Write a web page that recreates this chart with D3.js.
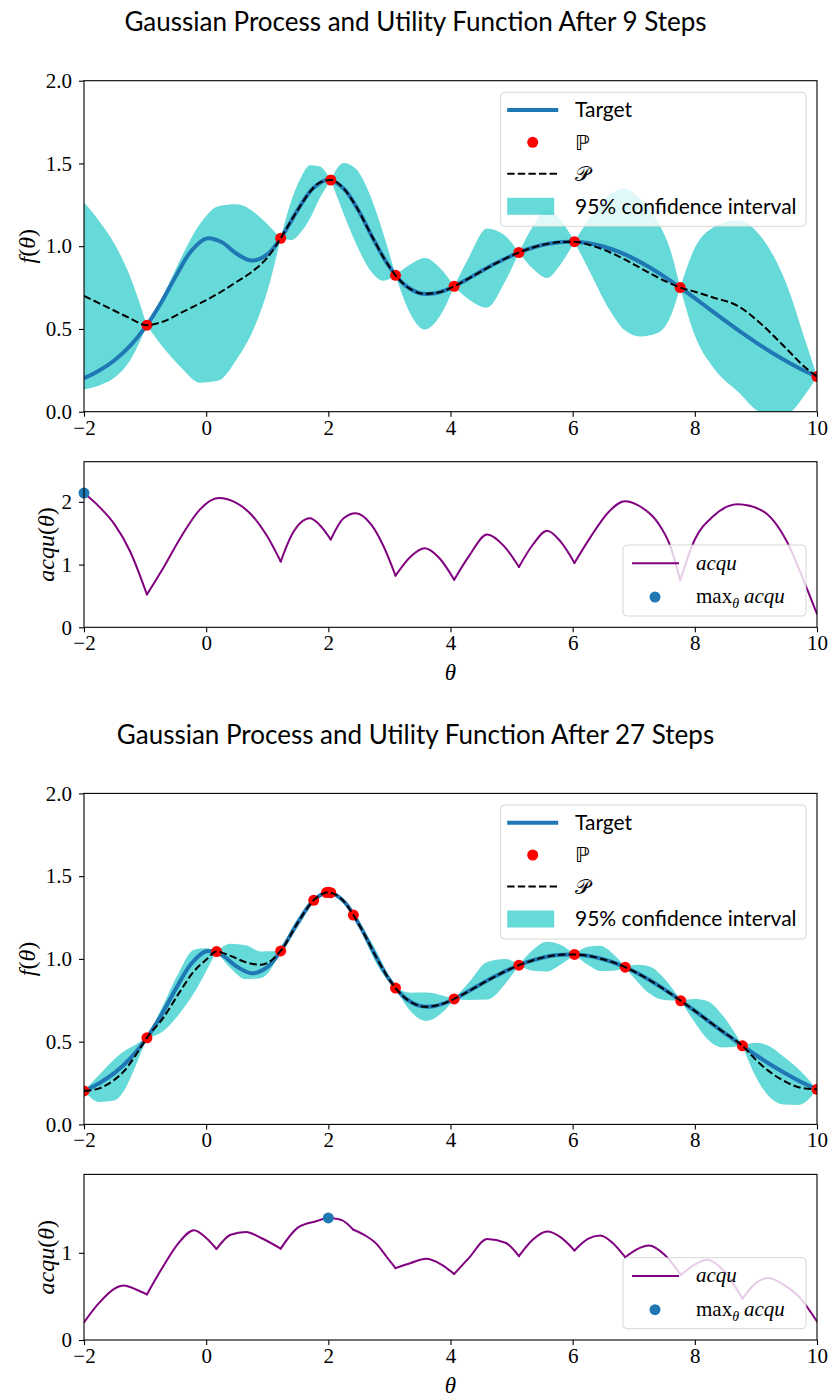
<!DOCTYPE html>
<html>
<head>
<meta charset="utf-8">
<title>Gaussian Process and Utility Function</title>
<script src="https://d3js.org/d3.v7.min.js"></script>
<style>
  body { margin: 0; background: #fff; }
  .tick text { font-family: "Liberation Serif", serif; font-size: 21px; fill: #000; }
  .tick line { stroke: #000; stroke-width: 1.1; }
  .domain { display: none; }
</style>
</head>
<body>
<div id="chart"></div>
<script>
// ---- data ----
var xTicks = [-2, 0, 2, 4, 6, 8, 10];
var gpTicks = [0, 0.5, 1, 1.5, 2];
var acqTicks1 = [0, 1, 2];
var acqTicks2 = [0, 1];
var titles = ["Gaussian Process and Utility Function After 9 Steps",
              "Gaussian Process and Utility Function After 27 Steps"];

// target function, sampled every 0.25
var targetX = [-2, -1.75, -1.5, -1.25, -1, -0.75, -0.5, -0.25, 0, 0.25, 0.5, 0.75, 1, 1.25, 1.5, 1.75,
  2, 2.25, 2.5, 2.75, 3, 3.25, 3.5, 3.75, 4, 4.25, 4.5, 4.75, 5, 5.25, 5.5, 5.75,
  6, 6.25, 6.5, 6.75, 7, 7.25, 7.5, 7.75, 8, 8.25, 8.5, 8.75, 9, 9.25, 9.5, 9.75, 10];
var targetY = [0.202, 0.249, 0.311, 0.396, 0.508, 0.651, 0.817, 0.968, 1.046, 1.025, 0.954, 0.913, 0.950, 1.065, 1.219, 1.350,
  1.402, 1.349, 1.211, 1.034, 0.875, 0.766, 0.716, 0.716, 0.747, 0.795, 0.848, 0.898, 0.943, 0.980, 1.007, 1.023,
  1.027, 1.019, 0.998, 0.967, 0.925, 0.874, 0.816, 0.753, 0.686, 0.617, 0.549, 0.482, 0.419, 0.359, 0.305, 0.255, 0.212];

// after 9 steps
var obs1X = [-0.97, 1.22, 2.04, 3.10, 4.06, 5.12, 6.03, 7.76, 10];
var obs1Y = [0.523, 1.048, 1.40, 0.824, 0.758, 0.962, 1.027, 0.75, 0.212];
var grid1X = [-2, -1.75, -1.5, -1.25, -0.97, -0.7, -0.4, -0.1, 0.2, 0.5, 0.8, 1.0, 1.22, 1.4, 1.55, 1.7, 1.85, 2.04,
  2.25, 2.45, 2.7, 2.9, 3.10, 3.35, 3.58, 3.82, 4.06, 4.3, 4.6, 4.88, 5.12, 5.35, 5.58, 5.8, 6.03,
  6.3, 6.6, 6.85, 7.1, 7.4, 7.6, 7.76, 8.0, 8.3, 8.7, 9.1, 9.5, 9.8, 10];
var mean1 = [0.70, 0.655, 0.61, 0.565, 0.523, 0.545, 0.60, 0.655, 0.715, 0.785, 0.86, 0.93, 1.048, 1.16, 1.249, 1.328, 1.383, 1.40,
  1.349, 1.243, 1.07, 0.934, 0.824, 0.739, 0.712, 0.722, 0.758, 0.805, 0.868, 0.922, 0.962, 0.992, 1.014, 1.025, 1.027,
  1.005, 0.965, 0.92, 0.87, 0.81, 0.775, 0.75, 0.725, 0.69, 0.64, 0.525, 0.38, 0.27, 0.212];
var upper1 = [1.265, 1.151, 1.014, 0.822, 0.523, 0.704, 0.937, 1.135, 1.242, 1.253, 1.201, 1.134, 1.048, 1.282, 1.414, 1.489, 1.483, 1.40,
  1.502, 1.468, 1.293, 1.077, 0.824, 0.892, 0.928, 0.871, 0.758, 0.932, 1.107, 1.067, 0.962, 1.121, 1.220, 1.160, 1.027,
  1.179, 1.312, 1.347, 1.286, 1.143, 0.977, 0.75, 0.99, 1.113, 1.157, 1.05, 0.772, 0.439, 0.212];
var lower1 = [0.135, 0.159, 0.206, 0.308, 0.523, 0.386, 0.263, 0.175, 0.188, 0.317, 0.519, 0.726, 1.048, 1.038, 1.084, 1.167, 1.283, 1.40,
  1.196, 1.018, 0.847, 0.791, 0.824, 0.586, 0.496, 0.573, 0.758, 0.678, 0.629, 0.777, 0.962, 0.863, 0.808, 0.890, 1.027,
  0.831, 0.618, 0.493, 0.454, 0.477, 0.573, 0.75, 0.46, 0.267, 0.123, -0.005, -0.012, 0.101, 0.212];
var acq1 = [2.14, 1.92, 1.64, 1.22, 0.523, 0.95, 1.46, 1.88, 2.06, 1.98, 1.73, 1.45, 1.048, 1.47, 1.67, 1.74, 1.64, 1.40,
  1.74, 1.82, 1.64, 1.30, 0.824, 1.13, 1.26, 1.10, 0.758, 1.13, 1.48, 1.29, 0.962, 1.32, 1.54, 1.37, 1.027,
  1.45, 1.85, 2.01, 1.93, 1.66, 1.29, 0.75, 1.40, 1.77, 1.96, 1.86, 1.38, 0.70, 0.212];
var best1 = [-2, 2.14];

// after 27 steps
var obs2X = [-2, -0.97, 0.17, 1.22, 1.76, 1.97, 2.0, 2.04, 2.41, 3.10, 4.06, 5.12, 6.03, 6.86, 7.77, 8.78, 10];
var obs2Y = [0.202, 0.523, 1.044, 1.048, 1.354, 1.401, 1.402, 1.40, 1.265, 0.824, 0.758, 0.962, 1.027, 0.95, 0.747, 0.475, 0.212];
var grid2X = [-2, -1.75, -1.5, -1.35, -1.15, -0.97, -0.7, -0.45, -0.2, 0.0, 0.17, 0.4, 0.65, 0.9, 1.22, 1.5, 1.76, 1.97, 2.0, 2.04,
  2.22, 2.41, 2.6, 2.8, 2.95, 3.10, 3.35, 3.6, 3.85, 4.06, 4.3, 4.6, 4.9, 5.12, 5.35, 5.58, 5.8, 6.03,
  6.25, 6.45, 6.65, 6.86, 7.05, 7.25, 7.5, 7.77, 8.0, 8.2, 8.45, 8.78, 9.0, 9.2, 9.45, 9.7, 10];
var mean2 = [0.202, 0.218, 0.27, 0.32, 0.42, 0.523, 0.645, 0.79, 0.925, 0.995, 1.044, 1.018, 0.98, 0.965, 1.048, 1.219, 1.354, 1.401, 1.402, 1.40,
  1.361, 1.265, 1.141, 1.0, 0.903, 0.824, 0.739, 0.711, 0.726, 0.758, 0.805, 0.868, 0.926, 0.962, 0.992, 1.014, 1.025, 1.027,
  1.019, 1.003, 0.981, 0.95, 0.915, 0.874, 0.816, 0.747, 0.686, 0.631, 0.563, 0.475, 0.39, 0.325, 0.265, 0.225, 0.212];
var upper2 = [0.202, 0.300, 0.395, 0.44, 0.483, 0.523, 0.725, 0.917, 1.056, 1.064, 1.044, 1.092, 1.082, 1.045, 1.048, 1.246, 1.354, 1.401, 1.402, 1.40,
  1.367, 1.265, 1.165, 1.037, 0.925, 0.824, 0.796, 0.797, 0.781, 0.758, 0.858, 0.982, 1.0, 0.962, 1.055, 1.104, 1.086, 1.027,
  1.074, 1.079, 1.034, 0.95, 0.964, 0.956, 0.881, 0.747, 0.757, 0.745, 0.661, 0.475, 0.494, 0.476, 0.41, 0.333, 0.212];
var lower2 = [0.202, 0.136, 0.145, 0.20, 0.357, 0.523, 0.565, 0.663, 0.794, 0.926, 1.044, 0.944, 0.878, 0.885, 1.048, 1.192, 1.354, 1.401, 1.402, 1.40,
  1.355, 1.265, 1.117, 0.963, 0.881, 0.824, 0.682, 0.625, 0.671, 0.758, 0.752, 0.754, 0.852, 0.962, 0.929, 0.924, 0.964, 1.027,
  0.964, 0.927, 0.928, 0.95, 0.866, 0.792, 0.751, 0.747, 0.615, 0.517, 0.465, 0.475, 0.286, 0.174, 0.12, 0.117, 0.212];
var acq2 = [0.202, 0.428, 0.59, 0.625, 0.58, 0.523, 0.85, 1.115, 1.26, 1.17, 1.044, 1.208, 1.24, 1.17, 1.048, 1.289, 1.354, 1.401, 1.402, 1.40,
  1.376, 1.265, 1.201, 1.095, 0.958, 0.824, 0.884, 0.931, 0.866, 0.758, 0.94, 1.158, 1.116, 0.962, 1.152, 1.244, 1.18, 1.027,
  1.159, 1.198, 1.116, 0.95, 1.04, 1.084, 0.981, 0.747, 0.866, 0.921, 0.813, 0.475, 0.655, 0.71, 0.635, 0.50, 0.212];
var best2 = [2.0, 1.40];

// ---- layout ----
var W = 831, H = 1398;
var svg = d3.select("#chart").append("svg").attr("width", W).attr("height", H);
var x = d3.scaleLinear().domain([-2, 10]).range([84, 817]);
var sans = "Lato, 'Open Sans', sans-serif";
var serif = "'Liberation Serif', serif";

var figs = [
  {oy: 0, title: titles[0], obsX: obs1X, obsY: obs1Y, gx: grid1X, mean: mean1, up: upper1, lo: lower1,
   acq: acq1, best: best1, acqMax: 2.64, acqTicks: acqTicks1},
  {oy: 712.7, title: titles[1], obsX: obs2X, obsY: obs2Y, gx: grid2X, mean: mean2, up: upper2, lo: lower2,
   acq: acq2, best: best2, acqMax: 1.90, acqTicks: acqTicks2}
];

// split the grid into pieces between observations (sigma has a kink there)
function pieces(xs, knots) {
  var out = [], cur = [];
  xs.forEach(function(v, i) {
    cur.push(i);
    if (knots.indexOf(v) >= 0 && cur.length > 1) { out.push(cur); cur = [i]; }
  });
  if (cur.length > 1) out.push(cur);
  return out;
}

function frame(g, top, bottom, name) {
  g.append("clipPath").attr("id", name)
    .append("rect").attr("x", 84).attr("y", top).attr("width", 733).attr("height", bottom - top);
}

figs.forEach(function(f, k) {
  var g = svg.append("g");
  var gpTop = 80.7 + f.oy, gpBot = 411.7 + f.oy;
  var acTop = 461.7 + f.oy, acBot = 627.3 + f.oy;
  var y = d3.scaleLinear().domain([0, 2]).range([gpBot, gpTop]);
  var ya = d3.scaleLinear().domain([0, f.acqMax]).range([acBot, acTop]);
  var segs = pieces(f.gx, f.obsX);

  g.append("text").attr("x", 415.5).attr("y", 22 + f.oy).attr("dy", "0.35em")
    .attr("text-anchor", "middle").style("font-family", sans).style("font-size", "26px")
    .text(f.title);

  // ---- GP panel ----
  frame(g, gpTop, gpBot, "clipGp" + k);
  var gp = g.append("g").attr("clip-path", "url(#clipGp" + k + ")");
  var band = d3.area().curve(d3.curveMonotoneX)
    .x(function(i) { return x(f.gx[i]); })
    .y0(function(i) { return y(f.lo[i]); })
    .y1(function(i) { return y(f.up[i]); });
  gp.selectAll("path.band").data(segs).enter().append("path")
    .attr("class", "band").attr("d", band)
    .attr("fill", "#00bfbf").attr("fill-opacity", 0.6);

  gp.append("path")
    .attr("d", d3.line().curve(d3.curveCatmullRom)
      .x(function(d, i) { return x(targetX[i]); })
      .y(function(d) { return y(d); })(targetY))
    .attr("fill", "none").attr("stroke", "#1f77b4").attr("stroke-width", 4);

  gp.selectAll("circle.obs").data(f.obsX).enter().append("circle")
    .attr("cx", function(d) { return x(d); })
    .attr("cy", function(d, i) { return y(f.obsY[i]); })
    .attr("r", 5.5).attr("fill", "#ff0000");

  gp.append("path")
    .attr("d", d3.line().curve(d3.curveMonotoneX)
      .x(function(d, i) { return x(f.gx[i]); })
      .y(function(d) { return y(d); })(f.mean))
    .attr("fill", "none").attr("stroke", "#000").attr("stroke-width", 2)
    .attr("stroke-dasharray", "7.4,3.2");

  g.append("g").attr("transform", "translate(0," + gpBot + ")")
    .call(d3.axisBottom(x).tickValues(xTicks).tickSize(5).tickPadding(3).tickFormat(d3.format("d")));
  g.append("g").attr("transform", "translate(84,0)")
    .call(d3.axisLeft(y).tickValues(gpTicks).tickSize(5).tickPadding(7).tickFormat(d3.format(".1f")));
  g.append("rect").attr("x", 84).attr("y", gpTop).attr("width", 733).attr("height", gpBot - gpTop)
    .attr("fill", "none").attr("stroke", "#000").attr("stroke-width", 1.1);

  var fl = g.append("text").attr("transform", "translate(28," + ((gpTop + gpBot) / 2) + ") rotate(-90)")
    .attr("text-anchor", "middle").attr("dy", "0.3em")
    .style("font-family", serif).style("font-size", "24px");
  fl.append("tspan").style("font-style", "italic").text("f");
  fl.append("tspan").text("(");
  fl.append("tspan").style("font-style", "italic").text("θ");
  fl.append("tspan").text(")");

  // GP legend
  var lg = g.append("g").attr("transform", "translate(500.7," + (92.3 + f.oy) + ")");
  lg.append("rect").attr("width", 305.3).attr("height", 134).attr("rx", 4)
    .attr("fill", "#fff").attr("fill-opacity", 0.8)
    .attr("stroke", "#ccc").attr("stroke-opacity", 0.8);
  var rows = [17.7, 50, 81.5, 114];
  lg.append("line").attr("x1", 6.5).attr("x2", 57.5).attr("y1", rows[0]).attr("y2", rows[0])
    .attr("stroke", "#1f77b4").attr("stroke-width", 4);
  lg.append("circle").attr("cx", 32).attr("cy", rows[1]).attr("r", 5.5).attr("fill", "#ff0000");
  lg.append("line").attr("x1", 6.5).attr("x2", 57.5).attr("y1", rows[2]).attr("y2", rows[2])
    .attr("stroke", "#000").attr("stroke-width", 2).attr("stroke-dasharray", "7.4,3.2");
  lg.append("rect").attr("x", 6.5).attr("y", rows[3] - 8.5).attr("width", 47).attr("height", 17)
    .attr("fill", "#00bfbf").attr("fill-opacity", 0.6);
  var labels = ["Target", "ℙ", "𝒫", "95% confidence interval"];
  var fonts = [sans, "'DejaVu Sans', sans-serif", "'DejaVu Serif', 'DejaVu Sans', serif", sans];
  lg.selectAll("text.lab").data(labels).enter().append("text")
    .attr("x", 74.3).attr("y", function(d, i) { return rows[i]; }).attr("dy", "0.35em")
    .style("font-family", function(d, i) { return fonts[i]; }).style("font-size", "21px")
    .text(function(d) { return d; });

  // ---- acquisition panel ----
  frame(g, acTop, acBot, "clipAc" + k);
  var ac = g.append("g").attr("clip-path", "url(#clipAc" + k + ")");
  var acqLine = d3.line().curve(d3.curveMonotoneX)
    .x(function(i) { return x(f.gx[i]); })
    .y(function(i) { return ya(f.acq[i]); });
  ac.selectAll("path.acq").data(segs).enter().append("path")
    .attr("class", "acq").attr("d", acqLine)
    .attr("fill", "none").attr("stroke", "#800080").attr("stroke-width", 2)
    .attr("stroke-linecap", "round");
  g.append("circle").attr("cx", x(f.best[0])).attr("cy", ya(f.best[1]))
    .attr("r", 5.5).attr("fill", "#1f77b4");

  g.append("g").attr("transform", "translate(0," + acBot + ")")
    .call(d3.axisBottom(x).tickValues(xTicks).tickSize(5).tickPadding(3).tickFormat(d3.format("d")));
  g.append("g").attr("transform", "translate(84,0)")
    .call(d3.axisLeft(ya).tickValues(f.acqTicks).tickSize(5).tickPadding(7).tickFormat(d3.format("d")));
  g.append("rect").attr("x", 84).attr("y", acTop).attr("width", 733).attr("height", acBot - acTop)
    .attr("fill", "none").attr("stroke", "#000").attr("stroke-width", 1.1);

  var al = g.append("text").attr("transform", "translate(47," + ((acTop + acBot) / 2) + ") rotate(-90)")
    .attr("text-anchor", "middle").attr("dy", "0.3em")
    .style("font-family", serif).style("font-size", "24px");
  al.append("tspan").style("font-style", "italic").text("acqu");
  al.append("tspan").text("(");
  al.append("tspan").style("font-style", "italic").text("θ");
  al.append("tspan").text(")");

  g.append("text").attr("x", 450.5).attr("y", 672 + f.oy).attr("dy", "0.35em")
    .attr("text-anchor", "middle").style("font-family", serif).style("font-size", "23px")
    .style("font-style", "italic").text("θ");

  // acquisition legend
  var la = g.append("g").attr("transform", "translate(623," + (545 + f.oy) + ")");
  la.append("rect").attr("width", 183).attr("height", 71).attr("rx", 4)
    .attr("fill", "#fff").attr("fill-opacity", 0.8)
    .attr("stroke", "#ccc").attr("stroke-opacity", 0.8);
  la.append("line").attr("x1", 9).attr("x2", 56).attr("y1", 18.3).attr("y2", 18.3)
    .attr("stroke", "#800080").attr("stroke-width", 2);
  la.append("circle").attr("cx", 32).attr("cy", 52).attr("r", 5.5).attr("fill", "#1f77b4");
  la.append("text").attr("x", 73).attr("y", 18.3).attr("dy", "0.3em")
    .style("font-family", serif).style("font-size", "21px").style("font-style", "italic").text("acqu");
  var mx = la.append("text").attr("x", 73).attr("y", 52).attr("dy", "0.3em")
    .style("font-family", serif).style("font-size", "21px");
  mx.append("tspan").text("max");
  mx.append("tspan").attr("dy", 5).style("font-size", "14px").style("font-style", "italic").text("θ");
  mx.append("tspan").attr("dy", -5).attr("dx", 5).style("font-style", "italic").text("acqu");
});
</script>
</body>
</html>
